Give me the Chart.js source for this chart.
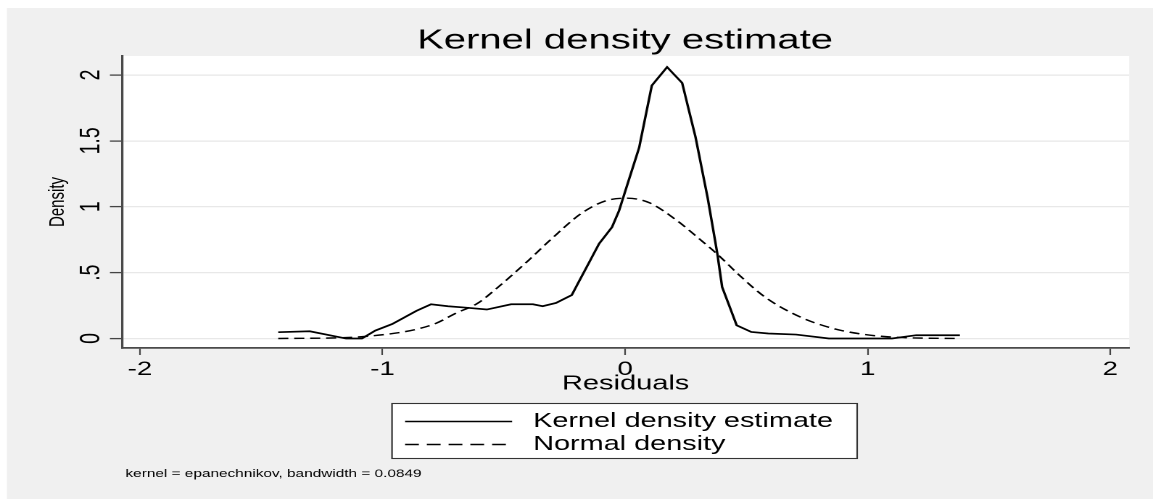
<!DOCTYPE html>
<html><head><meta charset="utf-8">
<script src="https://cdn.jsdelivr.net/npm/chart.js@4/dist/chart.umd.min.js"></script>
<style>
html,body{margin:0;padding:0;background:#fff;overflow:hidden}
</style></head>
<body>
<canvas id="c" width="795" height="499" style="display:block;width:1153px;height:499px"></canvas>
<script>
// ---- data ----
const kernelX = [-1.43,-1.30,-1.15,-1.085,-1.03,-0.96,-0.86,-0.80,-0.73,-0.66,-0.57,-0.47,-0.38,-0.34,-0.285,-0.22,-0.107,-0.054,-0.025,0.058,0.11,0.173,0.235,0.29,0.34,0.38,0.40,0.46,0.52,0.59,0.705,0.84,1.10,1.20,1.38];
const kernelY = [0.048,0.055,0.0,0.0,0.06,0.11,0.21,0.26,0.245,0.235,0.22,0.26,0.26,0.245,0.27,0.33,0.72,0.845,0.97,1.45,1.92,2.06,1.94,1.53,1.07,0.645,0.39,0.10,0.05,0.038,0.03,0.0,0.0,0.025,0.025];
const normalX = [-1.43,-1.14,-0.97,-0.86,-0.78,-0.70,-0.61,-0.53,-0.40,-0.31,-0.18,-0.08,0.01,0.10,0.21,0.31,0.38,0.48,0.58,0.72,0.86,0.99,1.13,1.38];
const normalY = [0.0,0.008,0.035,0.07,0.115,0.19,0.265,0.38,0.59,0.745,0.95,1.045,1.065,1.03,0.90,0.75,0.64,0.465,0.31,0.165,0.075,0.03,0.008,0.0];
const xTickValues = [-2,-1,0,1,2];
const xTickLabels = ["-2","-1","0","1","2"];
const yTickValues = [0,0.5,1,1.5,2];
const yTickLabels = ["0",".5","1","1.5","2"];
const titleText = "Kernel density estimate";
const xAxisTitle = "Residuals";
const yAxisTitle = "Density";
const legendLabels = ["Kernel density estimate","Normal density"];
const noteText = "kernel = epanechnikov, bandwidth = 0.0849";

const FONT = "'Liberation Sans', Arial, Helvetica, sans-serif";
const W = 795, H = 499;

const toPoints = (xs, ys) => xs.map((x, i) => ({x: x, y: ys[i]}));

const decor = {
  id: 'decor',
  beforeDraw(chart) {
    const ctx = chart.ctx, a = chart.chartArea;
    ctx.save();
    ctx.fillStyle = '#ffffff';
    ctx.fillRect(0, 0, W, H);
    ctx.fillStyle = '#f0f0f0';
    ctx.fillRect(4.8, 8, W, H);
    ctx.fillStyle = '#ffffff';
    ctx.fillRect(a.left, a.top, a.right - a.left, a.bottom - a.top);
    ctx.restore();
  },
  afterDraw(chart) {
    const ctx = chart.ctx;
    ctx.save();
    ctx.fillStyle = '#000';
    ctx.textBaseline = 'middle';
    // title
    ctx.textAlign = 'center';
    ctx.font = '27.6px ' + FONT;
    ctx.fillText(titleText, 431, 41);
    // legend box
    const bx = 270.3, by = 403.5, bw = 320.7, bh = 55;
    ctx.fillStyle = '#fff';
    ctx.fillRect(bx, by, bw, bh);
    ctx.strokeStyle = '#333';
    ctx.lineWidth = 1.1;
    ctx.strokeRect(bx, by, bw, bh);
    const ds = chart.data.datasets;
    const rows = [421.5, 444.5];
    const sampleDash = [[], [9.5, 5.5]];
    ds.forEach((d, i) => {
      ctx.beginPath();
      ctx.setLineDash(sampleDash[i]);
      ctx.strokeStyle = d.borderColor;
      ctx.lineWidth = 1.4;
      ctx.moveTo(279.3, rows[i]);
      ctx.lineTo(353.1, rows[i]);
      ctx.stroke();
      ctx.setLineDash([]);
      ctx.fillStyle = '#000';
      ctx.textAlign = 'left';
      ctx.font = '19.9px ' + FONT;
      ctx.fillText(legendLabels[i], 367.6, rows[i]);
    });
    // note
    ctx.font = '10.6px ' + FONT;
    ctx.fillText(noteText, 86.5, 474);
    ctx.restore();
  }
};

const canvas = document.getElementById('c');
new Chart(canvas, {
  type: 'line',
  data: {
    datasets: [
      {label: legendLabels[0], data: toPoints(kernelX, kernelY), borderColor: '#000', borderWidth: 1.7, pointRadius: 0, tension: 0, fill: false},
      {label: legendLabels[1], data: toPoints(normalX, normalY), borderColor: '#000', borderWidth: 1.45, borderDash: [7, 4], pointRadius: 0, cubicInterpolationMode: 'monotone', fill: false}
    ]
  },
  options: {
    responsive: false,
    devicePixelRatio: 2,
    animation: false,
    events: [],
    layout: {padding: {left: 0, right: 16.4, top: 56, bottom: 103}},
    plugins: {legend: {display: false}, title: {display: false}, tooltip: {enabled: false}},
    scales: {
      x: {
        type: 'linear', min: -2.074, max: 2.078,
        afterBuildTicks: s => { s.ticks = xTickValues.map(v => ({value: v})); },
        afterFit: s => { s.height = 48; },
        ticks: {
          autoSkip: false, maxRotation: 0, minRotation: 0, padding: 3.6, color: '#000',
          font: {family: FONT, size: 19},
          callback: (v) => xTickLabels[xTickValues.indexOf(v)]
        },
        grid: {drawOnChartArea: false, drawTicks: true, tickLength: 7, tickColor: '#444', tickWidth: 1.1},
        border: {display: true, color: '#4a4a4a', width: 1.7},
        title: {display: true, text: xAxisTitle, color: '#000', font: {family: FONT, size: 20}, padding: {top: 0, bottom: 0}}
      },
      y: {
        type: 'linear', min: -0.072, max: 2.144,
        afterBuildTicks: s => { s.ticks = yTickValues.map(v => ({value: v})); },
        afterFit: s => { s.width = 84.1; },
        ticks: {
          autoSkip: false, minRotation: 90, maxRotation: 90, crossAlign: 'center', padding: -1, color: '#000',
          font: {family: FONT, size: 19.5},
          callback: (v) => yTickLabels[yTickValues.indexOf(v)]
        },
        grid: {color: '#e8e8e8', lineWidth: 1.2, drawTicks: true, tickLength: 8.3, tickColor: '#444', tickWidth: 1.3},
        border: {display: true, color: '#4a4a4a', width: 1.6},
        title: {display: true, text: yAxisTitle, color: '#000', font: {family: FONT, size: 15}, padding: {top: 31, bottom: 0}}
      }
    }
  },
  plugins: [decor]
});
canvas.style.width = '1153px';
canvas.style.height = '499px';
</script>
</body></html>
